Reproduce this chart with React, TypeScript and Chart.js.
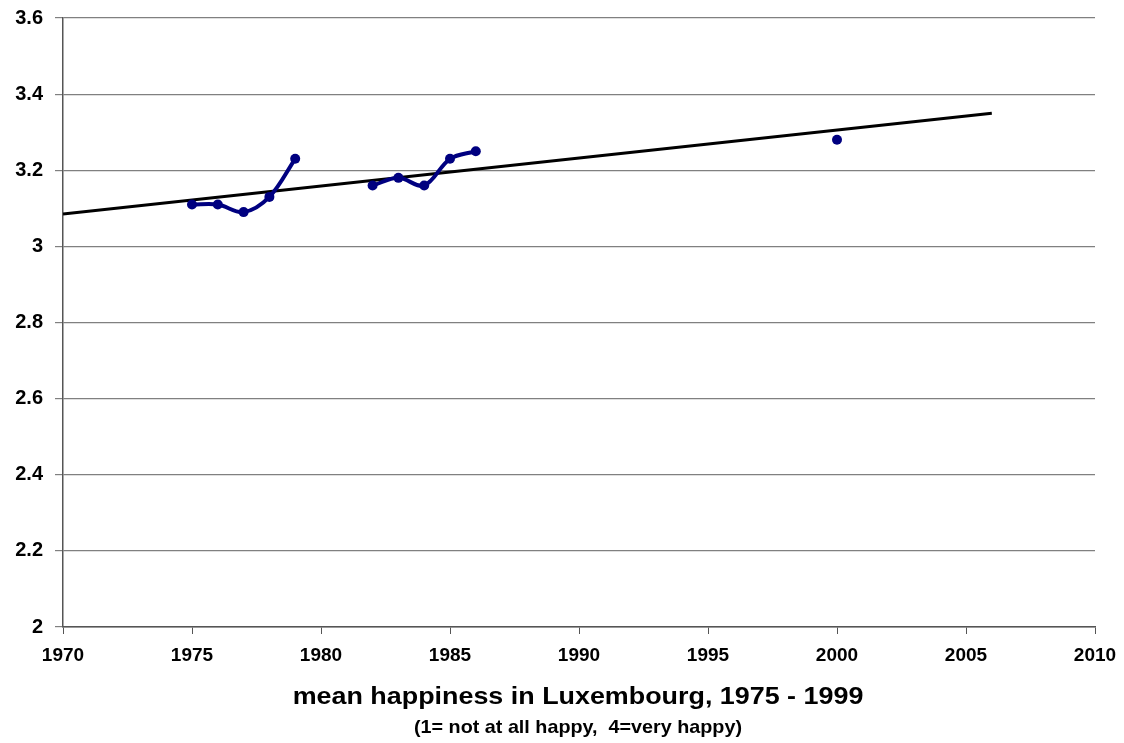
import React, { useEffect, useRef } from "react";
import { Chart, registerables } from "chart.js";

Chart.register(...registerables);

const years1: (number)[] = [1975, 1976, 1977, 1978, 1979, 1980, 1982, 1983, 1984, 1985, 1986];
const happiness1: (number | null)[] = [3.11, 3.11, 3.09, 3.13, 3.23, null, 3.16, 3.18, 3.16, 3.23, 3.25];
const years2: number[] = [2000];
const happiness2: number[] = [3.28];
const trendYears: number[] = [1970, 2006];
const trendValues: number[] = [3.085, 3.35];

const titleText = "mean happiness in Luxembourg, 1975 - 1999";
const subtitleText = "(1= not at all happy,  4=very happy)";

const FONT = "'Liberation Sans', Arial, sans-serif";

export default function App() {
  const ref = useRef<HTMLCanvasElement | null>(null);

  useEffect(() => {
    const canvas = ref.current;
    if (!canvas) return;
    document.body.style.margin = "0";

    const textPlugin = {
      id: "bottomTitles",
      afterDraw(chart: any) {
        const ctx = chart.ctx;
        const area = chart.chartArea;
        const cx = (area.left + area.right) / 2;
        ctx.save();
        ctx.fillStyle = "#000";
        ctx.textAlign = "center";
        ctx.textBaseline = "alphabetic";
        ctx.font = `bold 24px ${FONT}`;
        ctx.save();
        ctx.translate(cx - 1, 704);
        ctx.scale(1.12, 1);
        ctx.fillText(titleText, 0, 0);
        ctx.restore();
        ctx.font = `bold 19px ${FONT}`;
        ctx.save();
        ctx.translate(cx - 1, 733);
        ctx.scale(1.04, 1);
        ctx.fillText(subtitleText, 0, 0);
        ctx.restore();
        ctx.restore();
      },
    };

    const chart = new Chart(canvas, {
      type: "line",
      data: {
        datasets: [
          {
            label: "trend",
            data: trendYears.map((x, i) => ({ x, y: trendValues[i] })),
            borderColor: "#000000",
            borderWidth: 3,
            pointRadius: 0,
            tension: 0,
            order: 1,
          },
          {
            label: "happiness",
            data: years1.map((x, i) => ({ x, y: happiness1[i] })) as any,
            borderColor: "#000080",
            backgroundColor: "#000080",
            borderWidth: 4,
            pointRadius: 5,
            pointBorderWidth: 0,
            tension: 0.35,
            spanGaps: false,
            order: 0,
          },
          {
            label: "happiness 2000",
            data: years2.map((x, i) => ({ x, y: happiness2[i] })),
            borderColor: "#000080",
            backgroundColor: "#000080",
            showLine: false,
            pointRadius: 5,
            pointBorderWidth: 0,
            order: 0,
          },
        ],
      },
      options: {
        responsive: false,
        animation: false,
        devicePixelRatio: 1,
        layout: { padding: { top: 18, right: 29, left: 0, bottom: 0 } },
        plugins: {
          legend: { display: false },
          tooltip: { enabled: false },
          title: { display: false },
        },
        scales: {
          x: {
            type: "linear",
            min: 1970,
            max: 2010,
            afterFit: (s: any) => {
              s.height = 116;
              s.paddingLeft = 0;
              s.paddingRight = 0;
            },
            ticks: {
              stepSize: 5,
              color: "#000",
              padding: 10,
              maxRotation: 0,
              font: { family: FONT, size: 19, weight: "bold" },
              callback: (v: any) => String(v),
            },
            grid: {
              display: true,
              drawOnChartArea: false,
              drawTicks: true,
              tickLength: 7,
              color: "#555",
              lineWidth: 1,
            },
            border: { display: true, color: "#555", width: 1.5 },
          },
          y: {
            type: "linear",
            min: 2,
            max: 3.6,
            afterFit: (s: any) => {
              s.width = 63;
              s.paddingTop = 0;
              s.paddingBottom = 0;
            },
            ticks: {
              stepSize: 0.2,
              color: "#000",
              padding: 12,
              font: { family: FONT, size: 20, weight: "bold" },
              callback: (v: any) => String(Number(Number(v).toFixed(1))),
            },
            grid: {
              color: "#808080",
              lineWidth: 1.2,
              drawTicks: true,
              tickLength: 8,
            },
            border: { display: true, color: "#555", width: 1.5 },
          },
        },
      },
      plugins: [textPlugin],
    } as any);

    return () => chart.destroy();
  }, []);

  return (
    <div style={{ position: "absolute", left: 0, top: 0, width: 1124, height: 743, background: "#fff" }}>
      <canvas ref={ref} width={1124} height={743} style={{ display: "block" }} />
    </div>
  );
}
